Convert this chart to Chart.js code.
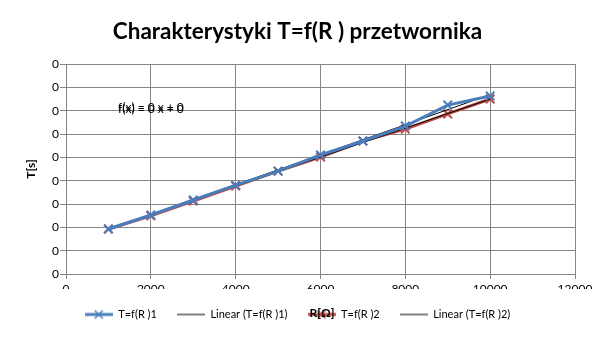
<!DOCTYPE html>
<html>
<head>
<meta charset="utf-8">
<script src="https://cdn.jsdelivr.net/npm/chart.js@4.4.1/dist/chart.umd.min.js"></script>
<style>
  body { margin: 0; background: #fff; }
  #wykres { display: block; }
</style>
</head>
<body>
<canvas id="wykres" width="605" height="340"></canvas>
<script>
// dane
const rezystancje = [1000, 2000, 3000, 4000, 5000, 6000, 7000, 8000, 9000, 10000];
const czasy1 = [0.0965, 0.1265, 0.1585, 0.1905, 0.2205, 0.255, 0.285, 0.317, 0.362, 0.3815];
const czasy2 = [0.0965, 0.1245, 0.1565, 0.1885, 0.2205, 0.2505, 0.285, 0.3105, 0.343, 0.375];
const nazwySerii = ['T=f(R )1', 'Linear (T=f(R )1)', 'T=f(R )2', 'Linear (T=f(R )2)'];

const niebieski = '#4a7ebb';
const czerwony = '#be4b48';
const siatka = '#868686';
const czcionka = 'Lato, "DejaVu Sans", sans-serif';

// regresja liniowa (linia trendu jak w Excelu)
function trend(xs, ys) {
  const n = xs.length;
  const sx = xs.reduce((a, b) => a + b, 0);
  const sy = ys.reduce((a, b) => a + b, 0);
  const sxy = xs.reduce((a, x, i) => a + x * ys[i], 0);
  const sxx = xs.reduce((a, x) => a + x * x, 0);
  const a = (n * sxy - sx * sy) / (n * sxx - sx * sx);
  const b = (sy - a * sx) / n;
  const x0 = xs[0], x1 = xs[n - 1];
  return [{ x: x0, y: a * x0 + b }, { x: x1, y: a * x1 + b }];
}

const punkty1 = rezystancje.map((r, i) => ({ x: r, y: czasy1[i] }));
const punkty2 = rezystancje.map((r, i) => ({ x: r, y: czasy2[i] }));

function ikona(kolor, grubosc, znacznik) {
  const c = document.createElement('canvas');
  c.width = 28; c.height = 12;
  const g = c.getContext('2d');
  g.strokeStyle = kolor;
  g.lineWidth = grubosc;
  g.beginPath(); g.moveTo(0, 6); g.lineTo(28, 6); g.stroke();
  if (znacznik) {
    g.lineWidth = 1.5;
    g.beginPath();
    g.moveTo(10, 2); g.lineTo(18, 10);
    g.moveTo(18, 2); g.lineTo(10, 10);
    g.stroke();
  }
  return c;
}
const ikony = [ikona(niebieski, 3, true), ikona('#000', 1, false), ikona(czerwony, 3, true), ikona('#000', 1, false)];

const napisy = {
  id: 'napisy',
  afterDraw(chart) {
    const ctx = chart.ctx;
    ctx.save();
    ctx.fillStyle = '#000';
    ctx.textAlign = 'left';
    ctx.textBaseline = 'middle';
    ctx.font = '12px ' + czcionka;
    ctx.fillText('f(x) = 0 x + 0', 118, 107);
    ctx.fillText('f(x) = 0 x + 0', 118, 109);
    ctx.textAlign = 'center';
    ctx.font = 'bold 12px ' + czcionka;
    ctx.fillText('R[Ω]', 322, 313);
    ctx.restore();
  }
};

new Chart(document.getElementById('wykres').getContext('2d'), {
  type: 'line',
  data: {
    datasets: [
      { label: nazwySerii[0], data: punkty1, borderColor: niebieski, backgroundColor: niebieski,
        borderWidth: 3, pointStyle: 'crossRot', pointRadius: 6, pointBorderWidth: 2, order: 0 },
      { label: nazwySerii[1], data: trend(rezystancje, czasy1), borderColor: '#000', borderWidth: 1,
        pointRadius: 0, order: 1 },
      { label: nazwySerii[2], data: punkty2, borderColor: czerwony, backgroundColor: czerwony,
        borderWidth: 3, pointStyle: 'crossRot', pointRadius: 6, pointBorderWidth: 2, order: 2 },
      { label: nazwySerii[3], data: trend(rezystancje, czasy2), borderColor: '#000', borderWidth: 1,
        pointRadius: 0, order: 1 }
    ]
  },
  options: {
    responsive: false,
    animation: false,
    layout: { padding: { left: 20, right: 30, top: 0, bottom: 10 } },
    plugins: {
      title: {
        display: true,
        text: 'Charakterystyki T=f(R ) przetwornika',
        color: '#000',
        font: { family: czcionka, size: 22.5, weight: 'bold' },
        padding: { top: 18, bottom: 19 }
      },
      legend: {
        position: 'bottom',
        labels: {
          usePointStyle: true,
          pointStyleWidth: 28,
          boxHeight: 12,
          padding: 20,
          color: '#000',
          font: { family: czcionka, size: 11 },
          generateLabels: chart => chart.data.datasets.map((ds, i) => ({
            text: ds.label,
            pointStyle: ikony[i],
            fillStyle: 'rgba(0,0,0,0)',
            strokeStyle: 'rgba(0,0,0,0)',
            fontColor: '#000',
            lineWidth: 0,
            datasetIndex: i,
            hidden: false
          }))
        }
      },
      tooltip: { enabled: false }
    },
    scales: {
      x: {
        type: 'linear',
        min: 0,
        max: 12000,
        ticks: { stepSize: 2000, color: '#000', font: { family: czcionka, size: 12 }, maxRotation: 0,
                 callback: v => String(v) },
        grid: { color: siatka, tickLength: 5 },
        border: { color: siatka },
        afterFit: s => { s.height = 15; }
      },
      y: {
        min: 0,
        max: 0.45,
        ticks: { stepSize: 0.05, color: '#000', font: { family: czcionka, size: 12 }, padding: 1,
                 callback: v => v.toFixed(0) },
        grid: { color: siatka, tickLength: 6 },
        border: { color: siatka },
        title: { display: true, text: 'T[s]', color: '#000', font: { family: czcionka, size: 12, weight: 'bold' } },
        afterFit: s => { s.width = 46; }
      }
    }
  },
  plugins: [napisy]
});
</script>
</body>
</html>
